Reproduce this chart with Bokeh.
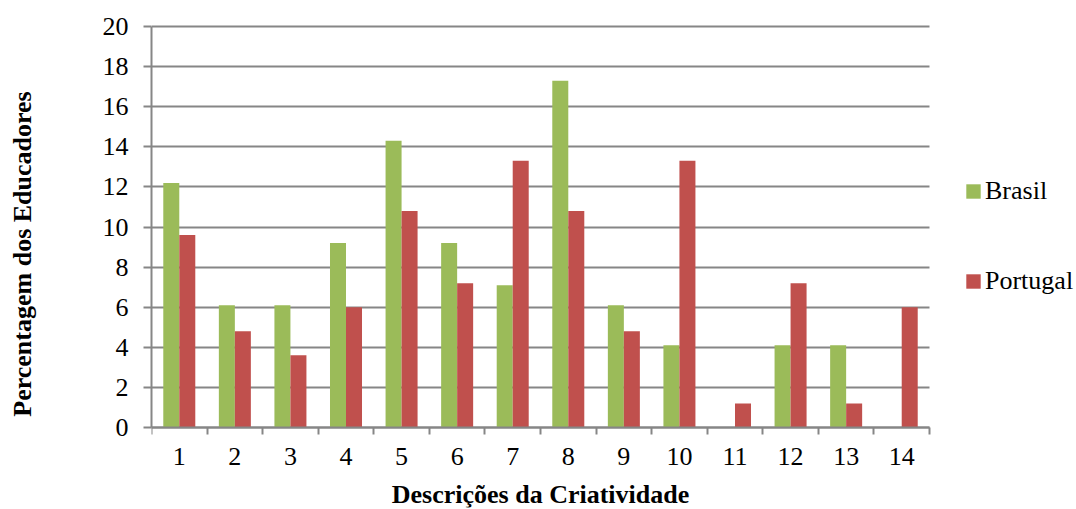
from bokeh.plotting import figure
from bokeh.models import (FixedTicker, Range1d, Legend, LegendItem, Label,
                          ColumnDataSource)
from bokeh.embed import file_html
from bokeh.resources import INLINE

categories = [str(i) for i in range(1, 15)]
brasil = [12.2, 6.1, 6.1, 9.2, 14.3, 9.2, 7.1, 17.3, 6.1, 4.1, 0, 4.1, 4.1, 0]
portugal = [9.6, 4.8, 3.6, 6.0, 10.8, 7.2, 13.3, 10.8, 4.8, 13.3, 1.2, 7.2, 1.2, 6.0]
y_ticks = [0, 2, 4, 6, 8, 10, 12, 14, 16, 18, 20]
series_names = ["Brasil", "Portugal"]
x_title = "Descrições da Criatividade"
y_title = "Percentagem dos Educadores"

FONT = "Liberation Serif"
GREEN = "#9BBB59"
RED = "#C0504D"
GREY = "#868686"

W, H = 1076, 509
LEFT = 151            # screen column of the y axis
RIGHT = 929           # screen column of the plot's right edge
TOP20 = 26            # screen row of y = 20
ZERO_PX = 427         # screen row of y = 0
FRAME_BOTTOM = 507
n = len(categories)
PX_PER_X = (RIGHT - LEFT) / n
PX_PER_Y = (ZERO_PX - TOP20) / 20
y_min = -(FRAME_BOTTOM - ZERO_PX) / PX_PER_Y
y_max = 20 + TOP20 / PX_PER_Y
x_max = n + 0.5 + (W - RIGHT) / PX_PER_X

xpos = list(range(1, n + 1))
src = ColumnDataSource(dict(
    xb=[x - 0.144 for x in xpos],
    xp=[x + 0.144 for x in xpos],
    brasil=brasil,
    portugal=portugal,
))

p = figure(width=W, height=H, output_backend="svg", toolbar_location=None,
           x_range=Range1d(0.5, x_max), y_range=Range1d(y_min, y_max),
           min_border_left=LEFT, min_border_right=0, min_border_top=0,
           min_border_bottom=H - FRAME_BOTTOM)
p.outline_line_color = None
p.background_fill_color = "white"
p.border_fill_color = "white"

rb = p.vbar(x="xb", top="brasil", width=0.288, source=src, fill_color=GREEN,
            line_color=None)
rp = p.vbar(x="xp", top="portugal", width=0.288, source=src, fill_color=RED,
            line_color=None)

# x axis, crossing at y = 0
xa = p.xaxis[0]
xa.fixed_location = 0
xa.bounds = (0.5, n + 0.5)
xa.ticker = FixedTicker(ticks=xpos, minor_ticks=[x - 0.5 for x in xpos] + [n + 0.5])
xa.major_label_overrides = {x: c for x, c in zip(xpos, categories)}
xa.major_tick_line_color = None
xa.major_tick_out = 0
xa.major_tick_in = 0
xa.minor_tick_out = 7
xa.minor_tick_in = 0
xa.minor_tick_line_color = GREY
xa.minor_tick_line_width = 2
xa.axis_line_color = GREY
xa.axis_line_width = 2
xa.major_label_text_font = FONT
xa.major_label_text_font_size = "26px"
xa.major_label_text_color = "black"
xa.major_label_standoff = 13

# y axis
ya = p.yaxis[0]
ya.ticker = FixedTicker(ticks=y_ticks)
ya.bounds = (0, 20)
ya.major_tick_out = 8
ya.major_tick_in = 0
ya.minor_tick_line_color = None
ya.major_tick_line_color = GREY
ya.major_tick_line_width = 2
ya.axis_line_color = GREY
ya.axis_line_width = 2
ya.major_label_text_font = FONT
ya.major_label_text_font_size = "26px"
ya.major_label_text_color = "black"
ya.major_label_standoff = 15
ya.axis_label = y_title
ya.axis_label_text_font = FONT
ya.axis_label_text_font_size = "26px"
ya.axis_label_text_font_style = "bold"
ya.axis_label_text_color = "black"
ya.axis_label_standoff = 63

p.xgrid.grid_line_color = None
p.ygrid.ticker = FixedTicker(ticks=y_ticks)
p.ygrid.cross_bounds = (0.5, n + 0.5)
p.ygrid.grid_line_color = GREY
p.ygrid.grid_line_width = 2

xlabel = Label(x=(n + 1) / 2, y=-3.35, x_units="data", y_units="data",
               text=x_title, text_font=FONT,
               text_font_size="26px", text_font_style="bold", text_color="black",
               text_align="center", text_baseline="alphabetic")
p.add_layout(xlabel)

legend = Legend(items=[LegendItem(label=series_names[0], renderers=[rb]),
                       LegendItem(label=series_names[1], renderers=[rp])],
                location=(964 - LEFT, FRAME_BOTTOM - 296), orientation="vertical",
                glyph_width=18, glyph_height=18, label_height=29,
                label_standoff=3, spacing=60,
                padding=0, margin=0, border_line_color=None,
                background_fill_alpha=0, label_text_font=FONT,
                label_text_font_size="26px", label_text_color="black")
p.add_layout(legend)

open("out.html", "w").write(file_html(p, INLINE))
